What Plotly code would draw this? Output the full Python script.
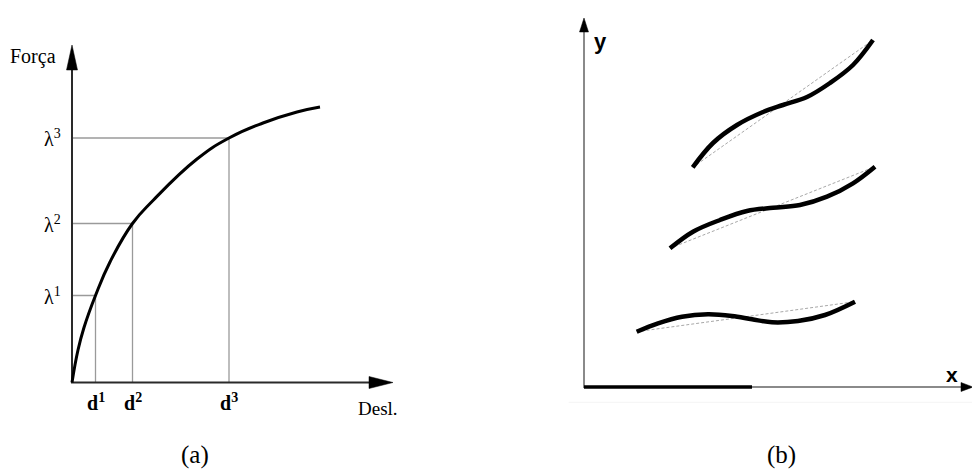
import plotly.graph_objects as go

# ---------- panel (a): force vs displacement ----------
desl_curve = [0.0, 0.6, 1.2, 2.35, 3.8, 6.05, 8.1, 12.5, 15.7, 19.1, 22.5, 24.8]
forca_curve = [0.0, 3.25, 5.5, 8.7, 12.05, 15.9, 18.2, 22.35, 24.45, 25.95, 27.05, 27.55]
d_steps = [2.35, 6.05, 15.7]
lambda_steps = [8.7, 15.9, 24.45]
step_idx = ["1", "2", "3"]
a_axis_tips = [32.1, 33.75]          # x-axis tip, y-axis tip

# ---------- panel (b): three curves and their chords ----------
top_x = [10.87, 12.9, 15.3, 17.9, 19.9, 22.3, 24.6, 26.9, 28.9]
top_y = [21.97, 24.4, 26.2, 27.5, 28.2, 29.0, 30.4, 32.2, 34.7]
mid_x = [8.6, 10.9, 13.6, 16.3, 18.9, 21.6, 24.3, 26.9, 29.1]
mid_y = [13.87, 15.53, 16.7, 17.6, 17.93, 18.2, 19.03, 20.37, 22.03]
low_x = [5.27, 7.4, 9.8, 12.4, 14.8, 16.8, 18.8, 21.4, 24.1, 27.1]
low_y = [5.53, 6.37, 7.03, 7.27, 7.1, 6.77, 6.47, 6.6, 7.2, 8.53]
b_axis_tips = [38.9, 36.9]
base_segment = [0.0, 16.8]

SERIF = "Liberation Serif, Times New Roman, serif"
SANS = "Liberation Sans, Arial, sans-serif"

fig = go.Figure()

# guide lines to the curve
for d, lam in zip(d_steps, lambda_steps):
    fig.add_trace(go.Scatter(x=[0, d, d], y=[lam, lam, 0], mode="lines",
                             line=dict(color="#9a9a9a", width=1.3),
                             xaxis="x", yaxis="y", hoverinfo="skip"))

# axes of panel (a)
fig.add_trace(go.Scatter(x=[0, 0, a_axis_tips[0] - 2.0], y=[a_axis_tips[1] - 2.0, 0, 0],
                         mode="lines", line=dict(color="#2a2a2a", width=2),
                         xaxis="x", yaxis="y", hoverinfo="skip"))

# force-displacement curve
fig.add_trace(go.Scatter(x=desl_curve, y=forca_curve, mode="lines",
                         line=dict(color="black", width=3, shape="spline", smoothing=1.3,
                                   simplify=False),
                         xaxis="x", yaxis="y", hoverinfo="skip"))

# chords of panel (b)
for cx, cy in [(top_x, top_y), (mid_x, mid_y), (low_x, low_y)]:
    fig.add_trace(go.Scatter(x=[cx[0], cx[-1]], y=[cy[0], cy[-1]], mode="lines",
                             line=dict(color="#a8a8a8", width=1, dash="3px,2px"),
                             xaxis="x2", yaxis="y2", hoverinfo="skip"))

# axes of panel (b)
fig.add_trace(go.Scatter(x=[0, 0, b_axis_tips[0] - 1.0], y=[b_axis_tips[1] - 1.0, 0, 0],
                         mode="lines", line=dict(color="#8a8a8a", width=2),
                         xaxis="x2", yaxis="y2", hoverinfo="skip"))
fig.add_trace(go.Scatter(x=base_segment, y=[0, 0], mode="lines",
                         line=dict(color="black", width=3.5),
                         xaxis="x2", yaxis="y2", hoverinfo="skip"))

# the three curves
for cx, cy in [(top_x, top_y), (mid_x, mid_y), (low_x, low_y)]:
    fig.add_trace(go.Scatter(x=cx, y=cy, mode="lines",
                             line=dict(color="black", width=4.5, shape="spline", smoothing=1.0,
                                       simplify=False),
                             xaxis="x2", yaxis="y2", hoverinfo="skip"))


def arrow_head(tip_x, tip_y, length, half, direction, xref, yref):
    if direction == "up":
        pts = [(tip_x, tip_y), (tip_x - half, tip_y - length), (tip_x + half, tip_y - length)]
    else:
        pts = [(tip_x, tip_y), (tip_x - length, tip_y - half), (tip_x - length, tip_y + half)]
    path = "M " + " L ".join(f"{px},{py}" for px, py in pts) + " Z"
    return dict(type="path", path=path, xref=xref, yref=yref,
                fillcolor="black", line=dict(color="black", width=0.5))


shapes = [
    arrow_head(0, a_axis_tips[1], 2.5, 0.55, "up", "x", "y"),
    arrow_head(a_axis_tips[0], 0, 2.4, 0.6, "right", "x", "y"),
    arrow_head(0, b_axis_tips[1], 1.4, 0.45, "up", "x2", "y2"),
    arrow_head(b_axis_tips[0], 0, 1.2, 0.45, "right", "x2", "y2"),
    dict(type="line", xref="paper", yref="paper", x0=0.585, x1=1.0, y0=0.153, y1=0.153,
         line=dict(color="#f4f4f4", width=1)),
]

annotations = [
    dict(text="Força", x=-1.4, y=32.6, xref="x", yref="y", xanchor="right", yanchor="middle",
         showarrow=False, font=dict(family=SERIF, size=20, color="black")),
    dict(text="Desl.", x=30.6, y=-2.55, xref="x", yref="y", xanchor="center", yanchor="middle",
         showarrow=False, font=dict(family=SERIF, size=19, color="black")),
    dict(text="(a)", x=12.3, y=-7.25, xref="x", yref="y", xanchor="center", yanchor="middle",
         showarrow=False, font=dict(family=SERIF, size=25, color="black")),
    dict(text="(b)", x=19.7, y=-6.8, xref="x2", yref="y2", xanchor="center", yanchor="middle",
         showarrow=False, font=dict(family=SERIF, size=25, color="black")),
    dict(text="<b>y</b>", x=0.75, y=34.6, xref="x2", yref="y2", xanchor="left", yanchor="middle",
         showarrow=False, font=dict(family=SANS, size=22, color="black")),
    dict(text="<b>x</b>", x=36.8, y=1.3, xref="x2", yref="y2", xanchor="center", yanchor="middle",
         showarrow=False, font=dict(family=SANS, size=21, color="black")),
]
for d, lam, k in zip(d_steps, lambda_steps, step_idx):
    annotations.append(dict(text=f"λ<sup>{k}</sup>", x=-0.9, y=lam, xref="x", yref="y",
                            xanchor="right", yanchor="middle", showarrow=False,
                            font=dict(family=SERIF, size=20, color="black")))
    annotations.append(dict(text=f"<b>d<sup>{k}</sup></b>", x=d, y=-1.95, xref="x", yref="y",
                            xanchor="center", yanchor="middle", showarrow=False,
                            font=dict(family=SERIF, size=20, color="black")))

hidden = dict(visible=False, showgrid=False, zeroline=False, fixedrange=True)
fig.update_layout(
    width=972, height=475,
    margin=dict(l=0, r=0, t=0, b=0),
    paper_bgcolor="white", plot_bgcolor="rgba(0,0,0,0)",
    showlegend=False,
    xaxis=dict(domain=[0, 0.5], range=[-7.2, 41.4], **hidden),
    yaxis=dict(domain=[0, 1], range=[-9.25, 38.25], **hidden),
    xaxis2=dict(domain=[0.5, 1], range=[-9.8, 38.8], anchor="y2", **hidden),
    yaxis2=dict(domain=[0, 1], range=[-8.8, 38.7], anchor="x2", **hidden),
    shapes=shapes,
    annotations=annotations,
)

fig.write_html("out.html")
